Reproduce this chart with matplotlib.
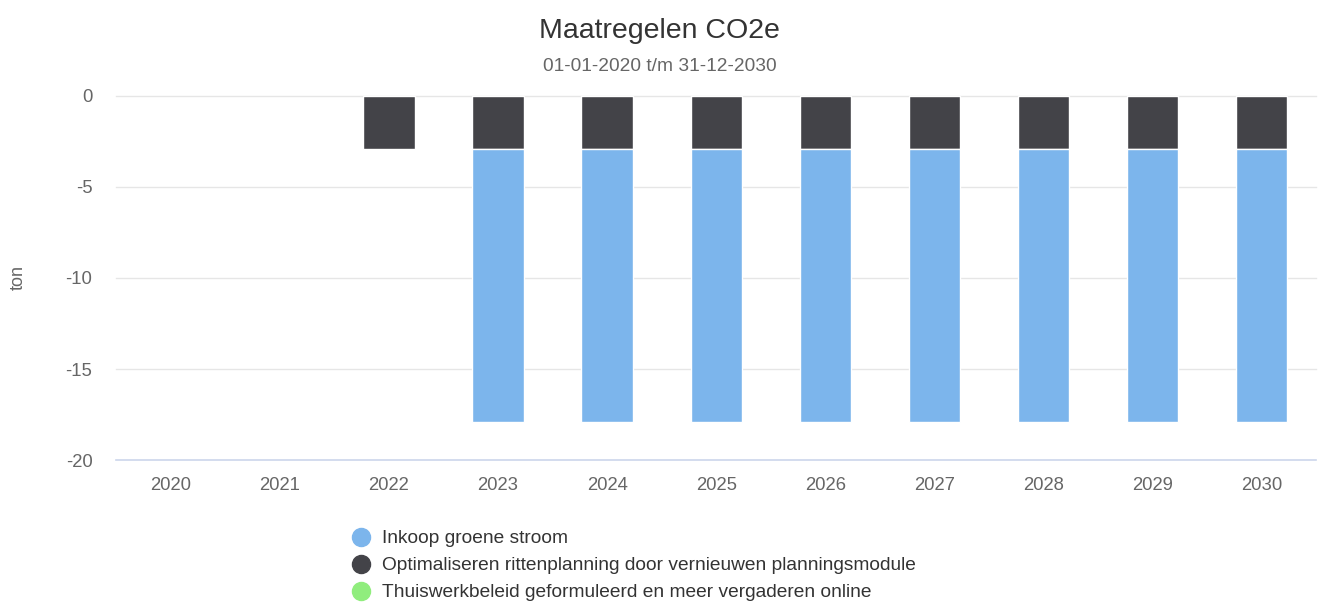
import numpy as np
import matplotlib.pyplot as plt
from matplotlib.lines import Line2D

plt.rcParams['font.family'] = ['Liberation Sans', 'DejaVu Sans']

# dati
jaren = ['2020', '2021', '2022', '2023', '2024', '2025', '2026', '2027', '2028', '2029', '2030']
groene_stroom = [0, 0, 0, -15, -15, -15, -15, -15, -15, -15, -15]
rittenplanning = [0, 0, -2.9, -2.9, -2.9, -2.9, -2.9, -2.9, -2.9, -2.9, -2.9]
thuiswerk = [0, 0, 0, 0, 0, 0, 0, 0, 0, 0, 0]
yticks = [0, -5, -10, -15, -20]

kleur_blauw = '#7cb5ec'
kleur_donker = '#434348'
kleur_groen = '#90ed7d'

fig = plt.figure(figsize=(13.19, 6.03), dpi=100)
ax = fig.add_axes([0.088, 0.237, 0.910, 0.604])

x = np.arange(len(jaren))
breedte = 0.47

# niente bordo per i valori zero
lw_ritten = [1 if v != 0 else 0 for v in rittenplanning]
lw_groen = [1 if v != 0 else 0 for v in groene_stroom]

ax.bar(x, rittenplanning, width=breedte, color=kleur_donker, edgecolor='white', linewidth=lw_ritten, zorder=3)
ax.bar(x, groene_stroom, width=breedte, bottom=rittenplanning, color=kleur_blauw, edgecolor='white', linewidth=lw_groen, zorder=3)
ax.bar(x, thuiswerk, width=breedte, color=kleur_groen, linewidth=0, zorder=3)

ax.set_xlim(-0.5, len(jaren) - 0.5)
ax.set_ylim(-20, 0)

for t in yticks:
    if t == -20:
        ax.axhline(t, color='#ccd6eb', linewidth=1.2, zorder=2, clip_on=False)
    else:
        ax.axhline(t, color='#e6e6e6', linewidth=1, zorder=1, clip_on=False)

ax.set_yticks(yticks)
ax.set_yticklabels([str(t) for t in yticks])
ax.set_xticks(x)
ax.set_xticklabels(jaren)
ax.tick_params(axis='both', length=0, labelsize=13.3, labelcolor='#666666')
ax.tick_params(axis='y', pad=17)
ax.tick_params(axis='x', pad=12)
for s in ax.spines.values():
    s.set_visible(False)

ax.set_ylabel('ton', fontsize=13, color='#666666', labelpad=28)

fig.text(0.5, 0.948, 'Maatregelen CO2e', ha='center', va='center', fontsize=20.5, color='#333333')
fig.text(0.5, 0.890, '01-01-2020 t/m 31-12-2030', ha='center', va='center', fontsize=13.8, color='#666666')

handles = [
    Line2D([], [], marker='o', linestyle='', markersize=13, color=kleur_blauw),
    Line2D([], [], marker='o', linestyle='', markersize=13, color=kleur_donker),
    Line2D([], [], marker='o', linestyle='', markersize=13, color=kleur_groen),
]
labels = ['Inkoop groene stroom',
          'Optimaliseren rittenplanning door vernieuwen planningsmodule',
          'Thuiswerkbeleid geformuleerd en meer vergaderen online']
leg = fig.legend(handles, labels, loc='upper left', bbox_to_anchor=(0.2605, 0.134), frameon=False,
                 fontsize=13.8, handletextpad=0.6, labelspacing=0.5, borderaxespad=0, handlelength=1.0)
for txt in leg.get_texts():
    txt.set_color('#333333')

fig.savefig('out.png', dpi=100)
